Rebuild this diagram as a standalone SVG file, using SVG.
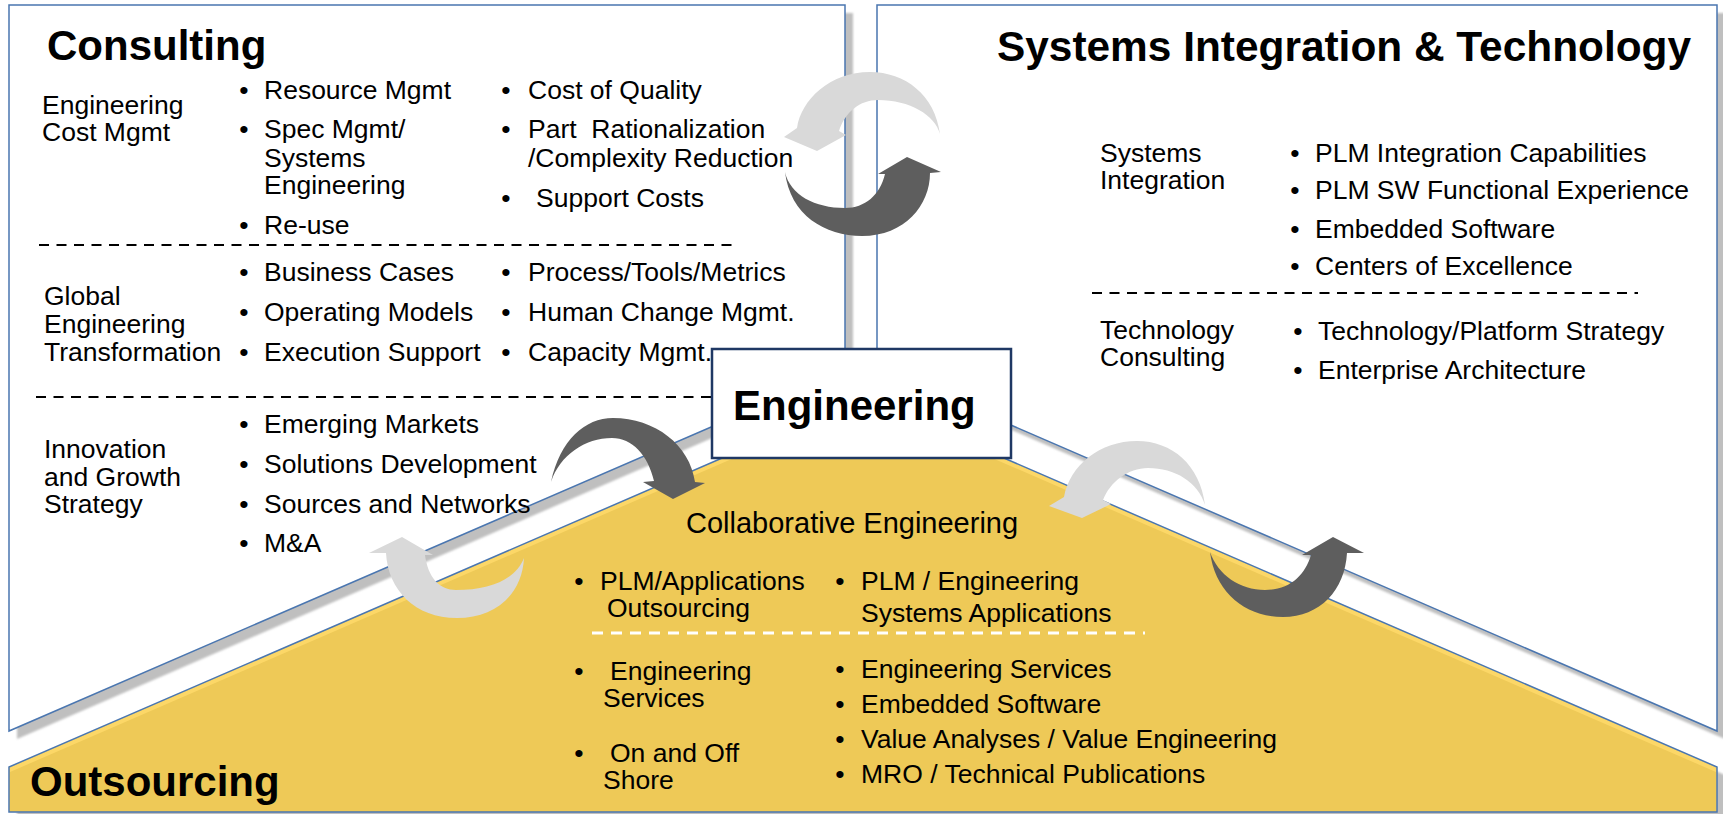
<svg xmlns="http://www.w3.org/2000/svg" width="1723" height="814" viewBox="0 0 1723 814">
<defs>
<style>
.t{font-family:"Liberation Sans",Arial,sans-serif;font-size:26.5px;fill:#000}
.h{font-family:"Liberation Sans",Arial,sans-serif;font-size:42px;font-weight:bold;fill:#000}
.c{font-family:"Liberation Sans",Arial,sans-serif;font-size:29px;fill:#000}
.b{text-anchor:middle}
.pre{white-space:pre}
.panel{fill:#fff;stroke:#4A76B0;stroke-width:1.5}
.shadow{fill:#BFBFBF}
.dash{stroke:#000;stroke-width:2;stroke-dasharray:10 7.5;fill:none}
.wdash{stroke:#fff;stroke-width:3;stroke-dasharray:11 8;fill:none}
.light{fill:#D9D9D9}
.dark{fill:#5E5E5E}
</style>
<filter id="blur" x="-5%" y="-5%" width="110%" height="110%"><feGaussianBlur stdDeviation="1"/></filter>
</defs>
<rect width="1723" height="814" fill="#fff"/>

<g id="shadows" filter="url(#blur)">
<polygon class="shadow" points="17,13 853,13 853,377 17,739"/>
<polygon class="shadow" points="885,13 1725,13 1725,739 885,375"/>
<polygon class="shadow" points="17,820 17,775 871,405 1725,775 1725,820"/>
</g>

<g id="consulting">
<polygon class="panel" points="9,5 845,5 845,369 9,731"/>
<text class="h" x="47" y="60">Consulting</text>
<text class="t" x="42" y="114">Engineering</text>
<text class="t" x="42" y="141">Cost Mgmt</text>
<text class="t b" x="244" y="99">•</text><text class="t" x="264" y="99">Resource Mgmt</text>
<text class="t b" x="244" y="138">•</text><text class="t" x="264" y="138">Spec Mgmt/</text>
<text class="t" x="264" y="167">Systems</text>
<text class="t" x="264" y="194">Engineering</text>
<text class="t b" x="244" y="234">•</text><text class="t" x="264" y="234">Re-use</text>
<text class="t b" x="506" y="99">•</text><text class="t" x="528" y="99">Cost of Quality</text>
<text class="t b" x="506" y="138">•</text><text class="t pre" x="528" y="138">Part  Rationalization</text>
<text class="t" x="528" y="167">/Complexity Reduction</text>
<text class="t b" x="506" y="207">•</text><text class="t" x="536" y="207">Support Costs</text>
<line class="dash" x1="39" y1="245" x2="735" y2="245"/>
<text class="t" x="44" y="305">Global</text>
<text class="t" x="44" y="333">Engineering</text>
<text class="t" x="44" y="361">Transformation</text>
<text class="t b" x="244" y="281">•</text><text class="t" x="264" y="281">Business Cases</text>
<text class="t b" x="244" y="321">•</text><text class="t" x="264" y="321">Operating Models</text>
<text class="t b" x="244" y="361">•</text><text class="t" x="264" y="361">Execution Support</text>
<text class="t b" x="506" y="281">•</text><text class="t" x="528" y="281">Process/Tools/Metrics</text>
<text class="t b" x="506" y="321">•</text><text class="t" x="528" y="321">Human Change Mgmt.</text>
<text class="t b" x="506" y="361">•</text><text class="t" x="528" y="361">Capacity Mgmt.</text>
<line class="dash" x1="36" y1="397" x2="712" y2="397"/>
<text class="t" x="44" y="458">Innovation</text>
<text class="t" x="44" y="486">and Growth</text>
<text class="t" x="44" y="513">Strategy</text>
<text class="t b" x="244" y="433">•</text><text class="t" x="264" y="433">Emerging Markets</text>
<text class="t b" x="244" y="473">•</text><text class="t" x="264" y="473">Solutions Development</text>
<text class="t b" x="244" y="513">•</text><text class="t" x="264" y="513">Sources and Networks</text>
<text class="t b" x="244" y="552">•</text><text class="t" x="264" y="552">M&amp;A</text>
</g>

<g id="systems">
<polygon class="panel" points="877,5 1717,5 1717,731 877,367"/>
<text class="h" x="997" y="61" style="font-size:42.4px">Systems Integration &amp; Technology</text>
<text class="t" x="1100" y="162">Systems</text>
<text class="t" x="1100" y="189">Integration</text>
<text class="t b" x="1295" y="162">•</text><text class="t" x="1315" y="162">PLM Integration Capabilities</text>
<text class="t b" x="1295" y="199">•</text><text class="t" x="1315" y="199">PLM SW Functional Experience</text>
<text class="t b" x="1295" y="238">•</text><text class="t" x="1315" y="238">Embedded Software</text>
<text class="t b" x="1295" y="275">•</text><text class="t" x="1315" y="275">Centers of Excellence</text>
<line class="dash" x1="1092" y1="293" x2="1638" y2="293"/>
<text class="t" x="1100" y="339">Technology</text>
<text class="t" x="1100" y="366">Consulting</text>
<text class="t b" x="1298" y="340">•</text><text class="t" x="1318" y="340">Technology/Platform Strategy</text>
<text class="t b" x="1298" y="379">•</text><text class="t" x="1318" y="379">Enterprise Architecture</text>
</g>

<g id="outsourcing">
<polygon fill="#FCD767" points="9,812 9,767 863,397 1717,767 1717,812"/>
<polygon fill="#EEC957" points="10,812 10,772 863,402 1716,772 1716,812"/>
<polygon fill="none" stroke="#4A76B0" stroke-width="1.5" points="9,812 9,767 863,397 1717,767 1717,812"/>
<text class="h" x="30" y="796">Outsourcing</text>
<text class="c" x="686" y="533">Collaborative Engineering</text>
<text class="t b" x="579" y="590">•</text><text class="t" x="600" y="590">PLM/Applications</text>
<text class="t" x="607" y="617">Outsourcing</text>
<text class="t b" x="840" y="590">•</text><text class="t" x="861" y="590">PLM / Engineering</text>
<text class="t" x="861" y="622">Systems Applications</text>
<line class="wdash" x1="592" y1="633" x2="1145" y2="633"/>
<text class="t b" x="579" y="680">•</text><text class="t" x="610" y="680">Engineering</text>
<text class="t" x="603" y="707">Services</text>
<text class="t b" x="579" y="762">•</text><text class="t" x="610" y="762">On and Off</text>
<text class="t" x="603" y="789">Shore</text>
<text class="t b" x="840" y="678">•</text><text class="t" x="861" y="678">Engineering Services</text>
<text class="t b" x="840" y="713">•</text><text class="t" x="861" y="713">Embedded Software</text>
<text class="t b" x="840" y="748">•</text><text class="t" x="861" y="748">Value Analyses / Value Engineering</text>
<text class="t b" x="840" y="783">•</text><text class="t" x="861" y="783">MRO / Technical Publications</text>
</g>

<g id="connectors">
<path class="light" d="M940,134 C935,95 905,72 870,72 C830,72 801,100 797,128 L784,137 L817,151 L846,135 L839,131 C845,112 860,100 878,100 C910,100 935,115 940,134 Z"/>
<path class="dark" d="M785,172 C790,215 825,236 862,236 C905,236 930,205 930,173 L941,172 L907,157 L878,174 L885,174 C880,195 865,208 845,208 C815,208 790,195 785,172 Z"/>
<path class="dark" d="M551,482 C560,440 585,418 613,418 C655,418 690,445 695,482 L705,483 L673,499 L643,482 L654,481 C648,455 632,438 612,438 C585,438 560,455 551,482 Z"/>
<path class="light" d="M524,558 C522,595 495,618 457,618 C415,618 388,590 386,553 L369,553 L402,537 L433,555 L425,555 C428,578 440,590 456,590 C490,590 515,580 524,558 Z"/>
<path class="light" d="M1205,505 C1200,465 1172,441 1137,441 C1100,441 1070,465 1064,497 L1049,506 L1082,518 L1111,504 L1103,500 C1110,482 1128,468 1148,468 C1175,468 1198,482 1205,505 Z"/>
<path class="dark" d="M1210,552 C1215,592 1245,617 1283,617 C1320,617 1345,590 1347,553 L1364,553 L1333,537 L1302,555 L1311,555 C1305,575 1290,590 1265,590 C1240,590 1218,575 1210,552 Z"/>
</g>

<g id="engineering">
<rect x="712" y="349" width="299" height="109" fill="#fff" stroke="#1F3864" stroke-width="2.5"/>
<text class="h" x="733" y="420">Engineering</text>
</g>
</svg>
